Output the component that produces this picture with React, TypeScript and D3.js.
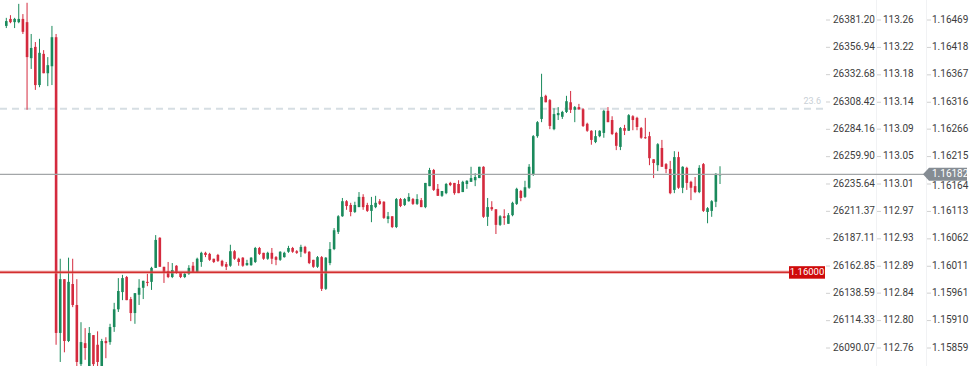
import React from "react";
import * as d3 from "d3";

const opens = [
  1.16458, 1.16471, 1.16465, 1.16465, 1.16471, 1.16465, 1.16398, 1.16419, 1.16348, 1.16406,
  1.16370, 1.16383, 1.16437, 1.15887, 1.15987, 1.15872, 1.15978, 1.15939, 1.15829, 1.15868,
  1.15825, 1.15883, 1.15865, 1.15825, 1.15872, 1.15870, 1.15898, 1.15931, 1.15963, 1.15991,
  1.15950, 1.15924, 1.15958, 1.15971, 1.15982, 1.15982, 1.16008, 1.16064, 1.16010, 1.16002,
  1.15991, 1.16012, 1.15999, 1.15991, 1.15997, 1.16012, 1.15999, 1.16019, 1.16036, 1.16034,
  1.16025, 1.16032, 1.16021, 1.16015, 1.16012, 1.16039, 1.16025, 1.16027, 1.16013, 1.16013,
  1.16019, 1.16045, 1.16036, 1.16025, 1.16036, 1.16028, 1.16023, 1.16028, 1.16038, 1.16045,
  1.16039, 1.16038, 1.16047, 1.16038, 1.16023, 1.16010, 1.16028, 1.15969, 1.16017, 1.16043,
  1.16075, 1.16104, 1.16132, 1.16125, 1.16112, 1.16121, 1.16140, 1.16125, 1.16114, 1.16121,
  1.16132, 1.16131, 1.16099, 1.16104, 1.16084, 1.16136, 1.16125, 1.16132, 1.16136, 1.16127,
  1.16134, 1.16121, 1.16160, 1.16190, 1.16155, 1.16142, 1.16147, 1.16166, 1.16166, 1.16164,
  1.16149, 1.16164, 1.16168, 1.16171, 1.16175, 1.16196, 1.16103, 1.16121, 1.16117, 1.16088,
  1.16104, 1.16090, 1.16106, 1.16127, 1.16151, 1.16140, 1.16157, 1.16181, 1.16253, 1.16285,
  1.16328, 1.16320, 1.16266, 1.16292, 1.16289, 1.16298, 1.16316, 1.16302, 1.16307, 1.16303,
  1.16276, 1.16263, 1.16242, 1.16253, 1.16259, 1.16300, 1.16283, 1.16259, 1.16233, 1.16268,
  1.16263, 1.16290, 1.16287, 1.16268, 1.16251, 1.16253, 1.16210, 1.16199, 1.16231, 1.16201,
  1.16192, 1.16153, 1.16214, 1.16157, 1.16194, 1.16168, 1.16160, 1.16149, 1.16201, 1.16112,
  1.16114, 1.16131, 1.16181,
];

const highs = [
  1.16473, 1.16478, 1.16473, 1.16499, 1.16480, 1.16501, 1.16443, 1.16428, 1.16434, 1.16413,
  1.16400, 1.16458, 1.16443, 1.16025, 1.15987, 1.16027, 1.16025, 1.15987, 1.15907, 1.15896,
  1.15898, 1.15883, 1.15890, 1.15876, 1.15879, 1.15904, 1.15943, 1.15989, 1.15995, 1.15993,
  1.15954, 1.15961, 1.15987, 1.15984, 1.15997, 1.16010, 1.16069, 1.16065, 1.16010, 1.16019,
  1.16017, 1.16013, 1.16000, 1.15999, 1.16013, 1.16019, 1.16027, 1.16038, 1.16038, 1.16036,
  1.16025, 1.16034, 1.16023, 1.16019, 1.16051, 1.16041, 1.16027, 1.16028, 1.16023, 1.16028,
  1.16047, 1.16047, 1.16036, 1.16038, 1.16045, 1.16030, 1.16039, 1.16038, 1.16049, 1.16047,
  1.16041, 1.16051, 1.16049, 1.16039, 1.16023, 1.16030, 1.16030, 1.16028, 1.16056, 1.16082,
  1.16106, 1.16138, 1.16134, 1.16129, 1.16131, 1.16149, 1.16145, 1.16129, 1.16140, 1.16142,
  1.16136, 1.16132, 1.16112, 1.16104, 1.16138, 1.16138, 1.16138, 1.16147, 1.16138, 1.16145,
  1.16138, 1.16166, 1.16194, 1.16192, 1.16164, 1.16151, 1.16166, 1.16168, 1.16166, 1.16171,
  1.16170, 1.16171, 1.16196, 1.16184, 1.16196, 1.16197, 1.16138, 1.16132, 1.16117, 1.16106,
  1.16117, 1.16110, 1.16131, 1.16157, 1.16153, 1.16170, 1.16201, 1.16255, 1.16281, 1.16369,
  1.16330, 1.16322, 1.16305, 1.16307, 1.16300, 1.16328, 1.16337, 1.16309, 1.16313, 1.16305,
  1.16278, 1.16264, 1.16264, 1.16264, 1.16302, 1.16307, 1.16290, 1.16261, 1.16270, 1.16274,
  1.16294, 1.16292, 1.16289, 1.16270, 1.16287, 1.16261, 1.16210, 1.16240, 1.16246, 1.16203,
  1.16207, 1.16225, 1.16224, 1.16197, 1.16196, 1.16170, 1.16177, 1.16199, 1.16203, 1.16121,
  1.16134, 1.16184, 1.16197,
];

const lows = [
  1.16454, 1.16463, 1.16454, 1.16463, 1.16443, 1.16302, 1.16378, 1.16339, 1.16344, 1.16370,
  1.16346, 1.16348, 1.15865, 1.15833, 1.15851, 1.15870, 1.15935, 1.15822, 1.15822, 1.15837,
  1.15820, 1.15822, 1.15820, 1.15820, 1.15840, 1.15865, 1.15889, 1.15926, 1.15948, 1.15948,
  1.15909, 1.15904, 1.15939, 1.15950, 1.15974, 1.15967, 1.16008, 1.16010, 1.15980, 1.15989,
  1.15989, 1.15997, 1.15989, 1.15989, 1.15995, 1.15999, 1.15999, 1.16010, 1.16028, 1.16021,
  1.16017, 1.16019, 1.16010, 1.16004, 1.16010, 1.16023, 1.16012, 1.16010, 1.16012, 1.16012,
  1.16017, 1.16032, 1.16023, 1.16023, 1.16015, 1.16013, 1.16021, 1.16027, 1.16036, 1.16036,
  1.16034, 1.16028, 1.16034, 1.16015, 1.16008, 1.16008, 1.15965, 1.15967, 1.16013, 1.16041,
  1.16071, 1.16103, 1.16116, 1.16104, 1.16110, 1.16121, 1.16116, 1.16112, 1.16093, 1.16119,
  1.16125, 1.16099, 1.16091, 1.16082, 1.16082, 1.16121, 1.16123, 1.16131, 1.16125, 1.16125,
  1.16121, 1.16119, 1.16160, 1.16151, 1.16142, 1.16140, 1.16145, 1.16160, 1.16144, 1.16147,
  1.16149, 1.16155, 1.16168, 1.16160, 1.16175, 1.16101, 1.16086, 1.16114, 1.16071, 1.16086,
  1.16088, 1.16090, 1.16104, 1.16125, 1.16132, 1.16138, 1.16155, 1.16179, 1.16250, 1.16279,
  1.16316, 1.16266, 1.16264, 1.16283, 1.16285, 1.16296, 1.16296, 1.16279, 1.16302, 1.16270,
  1.16261, 1.16237, 1.16240, 1.16251, 1.16250, 1.16279, 1.16255, 1.16227, 1.16227, 1.16255,
  1.16263, 1.16264, 1.16264, 1.16248, 1.16248, 1.16199, 1.16175, 1.16188, 1.16196, 1.16184,
  1.16145, 1.16147, 1.16155, 1.16147, 1.16153, 1.16134, 1.16147, 1.16147, 1.16112, 1.16091,
  1.16103, 1.16121, 1.16164,
];

const closes = [
  1.16467, 1.16465, 1.16471, 1.16471, 1.16447, 1.16400, 1.16417, 1.16348, 1.16408, 1.16370,
  1.16385, 1.16437, 1.15887, 1.15987, 1.15872, 1.15982, 1.15939, 1.15833, 1.15870, 1.15859,
  1.15887, 1.15829, 1.15833, 1.15872, 1.15868, 1.15898, 1.15931, 1.15965, 1.15989, 1.15948,
  1.15924, 1.15961, 1.15971, 1.15984, 1.15980, 1.16008, 1.16060, 1.16010, 1.15999, 1.15991,
  1.16004, 1.15999, 1.15991, 1.15997, 1.16008, 1.15999, 1.16025, 1.16036, 1.16032, 1.16023,
  1.16019, 1.16021, 1.16012, 1.16010, 1.16039, 1.16025, 1.16019, 1.16012, 1.16017, 1.16027,
  1.16045, 1.16034, 1.16025, 1.16036, 1.16025, 1.16023, 1.16038, 1.16036, 1.16045, 1.16038,
  1.16036, 1.16047, 1.16036, 1.16017, 1.16010, 1.16028, 1.15969, 1.16027, 1.16043, 1.16078,
  1.16104, 1.16132, 1.16123, 1.16112, 1.16125, 1.16140, 1.16121, 1.16114, 1.16125, 1.16129,
  1.16127, 1.16101, 1.16104, 1.16084, 1.16136, 1.16123, 1.16136, 1.16140, 1.16127, 1.16136,
  1.16121, 1.16166, 1.16190, 1.16153, 1.16142, 1.16151, 1.16164, 1.16162, 1.16147, 1.16147,
  1.16168, 1.16170, 1.16175, 1.16177, 1.16196, 1.16103, 1.16121, 1.16117, 1.16088, 1.16104,
  1.16101, 1.16106, 1.16129, 1.16155, 1.16138, 1.16158, 1.16196, 1.16253, 1.16279, 1.16326,
  1.16316, 1.16272, 1.16294, 1.16296, 1.16298, 1.16318, 1.16302, 1.16307, 1.16303, 1.16272,
  1.16263, 1.16246, 1.16253, 1.16263, 1.16300, 1.16279, 1.16257, 1.16235, 1.16268, 1.16263,
  1.16292, 1.16283, 1.16270, 1.16250, 1.16250, 1.16212, 1.16203, 1.16238, 1.16196, 1.16192,
  1.16147, 1.16214, 1.16157, 1.16196, 1.16166, 1.16157, 1.16149, 1.16194, 1.16114, 1.16119,
  1.16132, 1.16183, 1.16182,
];

const axis1Ticks = [26381.20, 26356.94, 26332.68, 26308.42, 26284.16, 26259.90, 26235.64, 26211.37, 26187.11, 26162.85, 26138.59, 26114.33, 26090.07];
const axis2Labels = ["113.26", "113.22", "113.18", "113.14", "113.09", "113.05", "113.01", "112.97", "112.93", "112.89", "112.84", "112.80", "112.76"];
const axis3Ticks = [1.16469, 1.16418, 1.16367, 1.16316, 1.16266, 1.16215, 1.16164, 1.16113, 1.16062, 1.16011, 1.15961, 1.15910, 1.15859];

const currentPrice = 1.16182;
const levelPrice = 1.16;
const fibPrice = 1.16304;
const fibLabel = "23.6";

const W = 978;
const H = 366;
const UP = "#1a8a5c";
const DOWN = "#d42a3e";
const FONT = "Roboto, 'Noto Sans', sans-serif";

export default function App() {
  const n = opens.length;
  const y = d3.scaleLinear().domain([axis3Ticks[12], axis3Ticks[0]]).range([348, 20]);
  const y1 = d3.scaleLinear().domain([axis1Ticks[12], axis1Ticks[0]]).range([348, 20]);
  const x = d3.scaleLinear().domain([0, n - 1]).range([6.3, 720]);
  const bw = 2.6;
  const cy = y(currentPrice);
  const ly = y(levelPrice);
  const fy = y(fibPrice);

  return (
    <svg width={W} height={H} style={{ position: "absolute", left: 0, top: 0, background: "#fff" }} fontFamily={FONT}>
      <rect x={0} y={0} width={W} height={H} fill="#fff" />
      <line x1={876.5} x2={876.5} y1={0} y2={H} stroke="#f1f2f4" />
      <line x1={926.5} x2={926.5} y1={0} y2={H} stroke="#f1f2f4" />

      {/* fib dashed line */}
      <line x1={0} x2={823} y1={fy} y2={fy} stroke="#d6dee3" strokeWidth={2} strokeDasharray="7 5" />
      <text x={821} y={fy - 5} textAnchor="end" fontSize={9} fill="#c9d0d6">{fibLabel}</text>

      {/* candles */}
      <g>
        {opens.map((o, i) => {
          const c = closes[i];
          const up = c >= o;
          const col = up ? UP : DOWN;
          const cx = x(i);
          const top = y(Math.max(o, c));
          const bot = y(Math.min(o, c));
          return (
            <g key={i}>
              <line x1={cx} x2={cx} y1={y(highs[i])} y2={y(lows[i])} stroke={col} strokeWidth={1} />
              <rect x={cx - bw / 2} y={top} width={bw} height={Math.max(1, bot - top)} fill={col} />
            </g>
          );
        })}
      </g>

      {/* current price line */}
      <line x1={0} x2={924} y1={cy} y2={cy} stroke="#a3a6a8" strokeWidth={1.3} />

      {/* level line */}
      <line x1={0} x2={790} y1={ly} y2={ly} stroke="#e57373" strokeWidth={3.5} strokeOpacity={0.45} />
      <line x1={0} x2={790} y1={ly} y2={ly} stroke="#d32f2f" strokeWidth={1.5} />
      <rect x={789} y={ly - 6} width={36} height={12.5} fill="#cf0a0a" />
      <text x={807} y={ly + 0.5} textAnchor="middle" dominantBaseline="middle" fontSize={9.5} fill="#fff">
        {d3.format(".5f")(levelPrice)}
      </text>

      {/* axes */}
      <g fontSize={10} fill="#3d3d3d">
        {axis1Ticks.map((t, k) => (
          <g key={"a1" + k}>
            <line x1={826} x2={830} y1={y1(t)} y2={y1(t)} stroke="#d0d0d0" />
            <text x={833} y={y1(t)} dominantBaseline="middle">{d3.format(".2f")(t)}</text>
          </g>
        ))}
        {axis2Labels.map((t, k) => (
          <g key={"a2" + k}>
            <line x1={877} x2={881} y1={y(axis3Ticks[k])} y2={y(axis3Ticks[k])} stroke="#d0d0d0" />
            <text x={883} y={y(axis3Ticks[k])} dominantBaseline="middle">{t}</text>
          </g>
        ))}
        {axis3Ticks.map((t, k) =>
          k === 6 ? null : (
            <g key={"a3" + k}>
              <line x1={927} x2={931} y1={y(t)} y2={y(t)} stroke="#d0d0d0" />
              <text x={932} y={y(t)} dominantBaseline="middle">{d3.format(".5f")(t)}</text>
            </g>
          )
        )}
        <line x1={927} x2={931} y1={y(axis3Ticks[6])} y2={y(axis3Ticks[6])} stroke="#d0d0d0" />
        <text x={932} y={y(axis3Ticks[6]) + 2} dominantBaseline="middle">{d3.format(".5f")(axis3Ticks[6])}</text>
      </g>

      {/* current price label */}
      <path
        d={`M923,${cy} L929,${cy - 6.5} L967,${cy - 6.5} L967,${cy + 6.5} L929,${cy + 6.5} Z`}
        fill="#858c93"
      />
      <text x={932} y={cy + 0.5} dominantBaseline="middle" fontSize={10} fill="#fff">
        {d3.format(".5f")(currentPrice)}
      </text>
    </svg>
  );
}
